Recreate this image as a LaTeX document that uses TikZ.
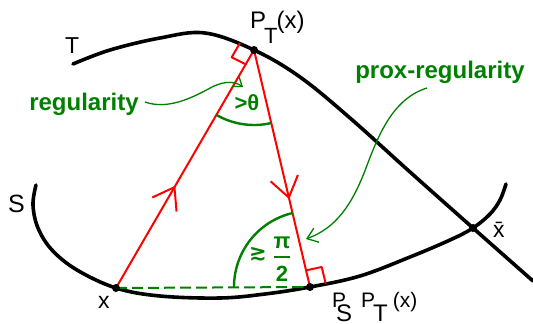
\documentclass[tikz,border=0pt]{standalone}
\usepackage{fontspec}
\setmainfont{Liberation Sans}
\newfontfamily\djv{DejaVu Sans}
\usetikzlibrary{arrows.meta,decorations.markings}
\definecolor{grn}{RGB}{0,128,0}
\definecolor{rd}{RGB}{255,0,0}
\begin{document}
\begin{tikzpicture}[x=1pt,y=-1pt,
  curve/.style={line width=3.6pt,line cap=round,line join=round},
  redline/.style={rd,line width=2pt,line join=round},
  thin green/.style={grn,line width=1.3pt},
  green arc/.style={grn,line width=2.4pt},
  dotmark/.style={black},
  gtxt/.style={grn,font=\fontsize{24}{24}\selectfont\bfseries,inner sep=0pt},
  btxt/.style={black,inner sep=0pt},
  midarrow/.style={postaction={decorate},decoration={markings,
     mark=at position #1 with {\arrow{Straight Barb[length=20pt,width=28pt,line width=2pt]}}}},
]
\useasboundingbox (0,0) rectangle (533,324);
\coordinate (x) at (116,288);
\coordinate (PT) at (254,50);
\coordinate (PSPT) at (310,287);
\coordinate (xb) at (473,228);

% curves T and S
\draw[curve] plot[smooth,tension=0.6] coordinates {(73,64) (110,50) (160,38) (205,33) (PT) (300,77) (350,118) (410,172) (xb) (533,281)};
\draw[curve] plot[smooth,tension=0.6] coordinates {(36,185) (33,205) (38,228) (52,250) (77,270) (x) (160,296) (220,298) (265,294) (PSPT) (360,276) (410,257) (450,240) (xb) (490,214) (500,200) (506,184)};

% green dashed chord
\draw[grn,line width=2pt,dash pattern=on 11pt off 5pt] (x) -- (PSPT);

% red rays
\draw[redline,midarrow=0.43] (x) -- (PT);
\draw[redline,midarrow=0.63] (PT) -- (PSPT);
% right-angle marks
\draw[redline] (PT) ++(-14,-7) -- ++(-8.3,14.3) -- ++(14,7);
\draw[redline] (PSPT) ++(-4,-16.6) -- ++(15.7,-3.4) -- ++(4,16.6);

% angle arcs
\draw[green arc] (PT) ++(120:75) arc[start angle=120,end angle=77,radius=75];
\draw[green arc] (PSPT) ++(257:76) arc[start angle=257,end angle=180,radius=76];

% dots
\fill[dotmark] (x) circle (4);
\fill[dotmark] (PT) circle (4);
\fill[dotmark] (PSPT) circle (4);
\fill[dotmark] (xb) circle (4);

% green labels
\node[gtxt,anchor=base] (reg) at (84,110) {regularity};
\node[gtxt,anchor=base] (prox) at (440,78) {prox-regularity};
\node[gtxt,anchor=base,font=\fontsize{22}{22}\selectfont\bfseries] (theta) at (247,110) {>θ};
\node[grn,inner sep=0pt,font=\fontsize{21}{21}\selectfont\bfseries\djv] (ge) at (258,254) {≳};
\node[grn,inner sep=0pt,font=\fontsize{22}{22}\selectfont\bfseries] (half) at (282,259) {$\displaystyle{\hbox{π}\above 2.5pt\hbox{2}}$};

% green pointer arrows
\coordinate (regtip) at (243,87);
\coordinate (proxtip) at (306,239);
\draw[thin green,-{Straight Barb[length=8pt,width=12pt]}] (reg.east |- 0,102) ++(6,0) .. controls (168,110) and (192,98) .. (212,87) .. controls (226,80) and (236,82) .. (regtip);
\draw[thin green,-{Straight Barb[length=10pt,width=15pt]}] (427,88) .. controls (395,98) and (380,130) .. (366,168) .. controls (352,205) and (336,228) .. (proxtip);

% black labels
\node[btxt,anchor=base west,font=\fontsize{23}{23}\selectfont] (Tlab) at (65,53) {T};
\node[btxt,anchor=base west,font=\fontsize{25}{25}\selectfont] (Slab) at (8,212) {S};
\node[btxt,anchor=base west,font=\fontsize{23}{23}\selectfont] (xlab) at (98,308) {x};
\node[btxt,anchor=base west,font=\fontsize{23}{23}\selectfont] (xblab) at (493,237) {\=x};
\node[btxt,anchor=base west,font=\fontsize{24}{24}\selectfont] (PTlab) at (250,28) {P\kern-2pt\raisebox{-15pt}{\fontsize{22}{22}\selectfont T}\kern-1pt(x)};
\node[btxt,anchor=base west,font=\fontsize{21}{21}\selectfont] (PSPTlab) at (332,307) {P\kern-10pt\raisebox{-14pt}{\fontsize{24}{24}\selectfont S}\kern9pt P\kern-2pt\raisebox{-14pt}{\fontsize{24}{24}\selectfont T}\kern5pt(x)};
\end{tikzpicture}
\end{document}
